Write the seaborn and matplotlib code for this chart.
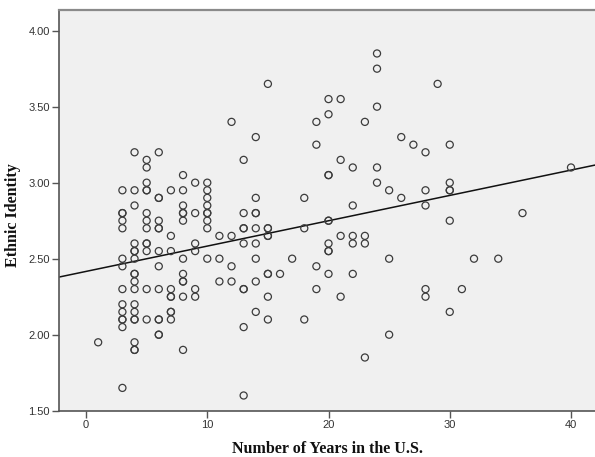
import matplotlib
matplotlib.use("Agg")
import matplotlib.pyplot as plt
import seaborn as sns
import pandas as pd

# ---- data (repeated values = overlapping circles) ----
year_cols = [1, 3, 4, 5, 6, 7, 8, 9, 10, 11, 12, 13, 14, 15, 16, 17, 18, 19, 20,
             21, 22, 23, 24, 25, 26, 27, 28, 29, 30, 31, 32, 34, 36, 40]
identity_cols = [
    [1.95],
    [2.95, 2.80, 2.80, 2.75, 2.70, 2.50, 2.45, 2.30, 2.20, 2.15, 2.10, 2.10, 2.05, 1.65],
    [3.20, 2.95, 2.85, 2.60, 2.55, 2.55, 2.50, 2.40, 2.40, 2.35, 2.30, 2.20, 2.15, 2.10, 2.10, 1.95, 1.90, 1.90],
    [3.15, 3.10, 3.00, 2.95, 2.95, 2.80, 2.75, 2.70, 2.60, 2.60, 2.55, 2.30, 2.10],
    [3.20, 2.90, 2.90, 2.75, 2.70, 2.70, 2.55, 2.45, 2.30, 2.10, 2.10, 2.00, 2.00],
    [2.95, 2.65, 2.55, 2.30, 2.25, 2.25, 2.15, 2.15, 2.10],
    [3.05, 2.95, 2.85, 2.80, 2.80, 2.75, 2.50, 2.40, 2.35, 2.35, 2.25, 1.90],
    [3.00, 2.80, 2.60, 2.55, 2.30, 2.25],
    [3.00, 2.95, 2.90, 2.85, 2.80, 2.80, 2.75, 2.70, 2.50],
    [2.65, 2.50, 2.35],
    [3.40, 2.65, 2.45, 2.35],
    [3.15, 2.80, 2.70, 2.70, 2.60, 2.30, 2.30, 2.05, 1.60],
    [3.30, 2.90, 2.80, 2.80, 2.70, 2.60, 2.50, 2.35, 2.15],
    [3.65, 2.70, 2.70, 2.65, 2.65, 2.40, 2.40, 2.25, 2.10],
    [2.40],
    [2.50],
    [2.90, 2.70, 2.10],
    [3.40, 3.25, 2.45, 2.30],
    [3.55, 3.45, 3.05, 3.05, 2.75, 2.75, 2.60, 2.55, 2.55, 2.40],
    [3.55, 3.15, 2.65, 2.25],
    [3.10, 2.85, 2.65, 2.60, 2.40],
    [3.40, 2.65, 2.60, 1.85],
    [3.85, 3.75, 3.50, 3.10, 3.00],
    [2.95, 2.50, 2.00],
    [3.30, 2.90],
    [3.25],
    [3.20, 2.95, 2.85, 2.30, 2.25],
    [3.65],
    [3.25, 3.00, 2.95, 2.95, 2.75, 2.15],
    [2.30],
    [2.50],
    [2.50],
    [2.80],
    [3.10],
]
x_ticks = [0, 10, 20, 30, 40]
y_ticks = [1.50, 2.00, 2.50, 3.00, 3.50, 4.00]

years = [yr for yr, col in zip(year_cols, identity_cols) for _ in col]
identity = [v for col in identity_cols for v in col]
df = pd.DataFrame({"years": years, "identity": identity})

# ---- figure ----
sns.set_style("white")
fig = plt.figure(figsize=(5.95, 4.57), dpi=100)
ax = fig.add_axes([59 / 595, 46.3 / 457, 1 - 59 / 595, (410.7 - 10) / 457])
ax.set_facecolor("#f0f0f0")

ax.set_xlim(-2.23, 41.98)
ax.set_ylim(1.50, 4.136)

sns.scatterplot(data=df, x="years", y="identity", ax=ax, marker="o", s=26,
                facecolor="none", edgecolor="#3c3c3c", linewidth=0.9, zorder=3)
sns.regplot(data=df, x="years", y="identity", ax=ax, scatter=False, ci=None,
            truncate=False, line_kws={"color": "#111111", "lw": 1.1, "zorder": 2})

ax.set_xlim(-2.23, 41.98)
ax.set_ylim(1.50, 4.136)
ax.set_xticks(x_ticks)
ax.set_xticklabels([str(t) for t in x_ticks])
ax.set_yticks(y_ticks)
ax.set_yticklabels([f"{t:.2f}" for t in y_ticks])

for side in ["left", "bottom"]:
    ax.spines[side].set_color("#555555")
    ax.spines[side].set_linewidth(1.2)
ax.spines["top"].set_color("#8a8a8a")
ax.spines["top"].set_linewidth(1.6)
ax.spines["right"].set_visible(False)

ax.tick_params(axis="both", direction="out", length=5, width=1.0, color="#555555",
               labelsize=8, labelcolor="#333333", pad=1.5, left=True, bottom=True)
for lbl in ax.get_xticklabels() + ax.get_yticklabels():
    lbl.set_family("Liberation Sans")

ax.set_xlabel("Number of Years in the U.S.", family="Liberation Serif",
              fontweight="bold", fontsize=11.5, color="#111111",
              va="center", ha="center")
ax.set_ylabel("Ethnic Identity", family="Liberation Serif",
              fontweight="bold", fontsize=11.5, color="#111111",
              va="center", ha="center")
ax.xaxis.set_label_coords(0.5, -38.3 / 400.7)
ax.yaxis.set_label_coords(-46 / 536, (410.7 - 215) / 400.7)

fig.savefig("out.png", dpi=100, facecolor="white")
